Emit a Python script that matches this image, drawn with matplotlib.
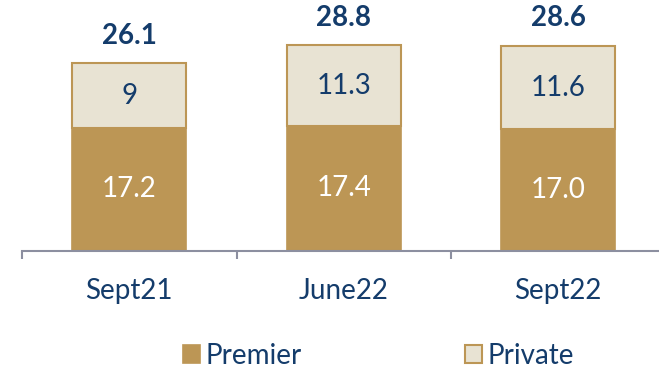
import numpy as np
import matplotlib.pyplot as plt

plt.rcParams['font.family'] = ['Lato', 'DejaVu Sans']

periods = ['Sept21', 'June22', 'Sept22']
premier = [17.2, 17.4, 17.0]
private = [9.0, 11.3, 11.6]
private_labels = ['9', '11.3', '11.6']
totals = [26.1, 28.8, 28.6]

gold = '#BC9655'
cream = '#E8E3D3'
navy = '#143C6B'

fig = plt.figure(figsize=(6.59, 3.69), dpi=100)
ax = fig.add_axes([22 / 659, 1 - 250.7 / 369, 643.5 / 659, 250.7 / 369])

x = np.arange(len(periods))
b1 = ax.bar(x, premier, width=0.53, color=gold, edgecolor=gold, linewidth=1.2,
            label='Premier')
b2 = ax.bar(x, private, width=0.53, bottom=premier, color=cream, edgecolor=gold,
            linewidth=1.5, label='Private')

for i in range(len(periods)):
    ax.text(x[i], premier[i] / 2, f'{premier[i]:.1f}', ha='center', va='center',
            fontsize=20, color='white')
    ax.text(x[i], premier[i] + private[i] / 2, private_labels[i], ha='center',
            va='center', fontsize=20, color=navy)
    ax.annotate(f'{totals[i]:.1f}', (x[i], premier[i] + private[i]),
                xytext=(0, 20), textcoords='offset points', ha='center',
                va='center', fontsize=20, fontweight='bold', color=navy)

ax.set_xlim(-0.5, 2.5)
ax.set_ylim(0, 250.7 / 7.15)
for s in ['top', 'right', 'left']:
    ax.spines[s].set_visible(False)
ax.spines['bottom'].set_color('#8C8FA0')
ax.spines['bottom'].set_linewidth(1.5)
ax.set_yticks([])

# category boundaries get the tick marks, labels sit between them
ax.set_xticks([-0.5, 0.5, 1.5, 2.5])
ax.set_xticklabels([])
ax.tick_params(axis='x', length=6, width=1.5, color='#8C8FA0')
ax.set_xticks(x, minor=True)
ax.set_xticklabels(periods, minor=True, fontsize=20, color=navy)
ax.tick_params(axis='x', which='minor', length=0, pad=20)

fig.legend(handles=[b1, b2], loc='center left',
           bbox_to_anchor=(183 / 659, 1 - 356 / 369),
           ncol=2, frameon=False, fontsize=20, labelcolor=navy,
           handlelength=0.6, handleheight=0.6, handletextpad=0.2,
           columnspacing=5.9, borderpad=0, borderaxespad=0)

fig.savefig('out.png', dpi=100)
